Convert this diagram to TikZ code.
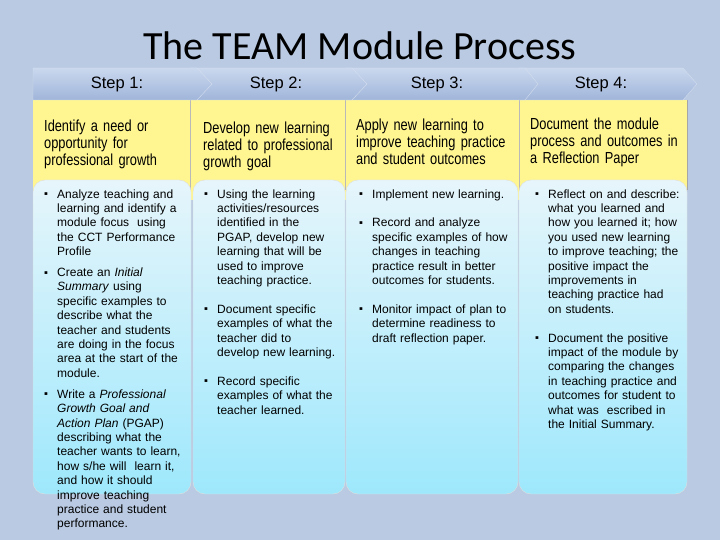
\documentclass[tikz,border=0pt]{standalone}
\usepackage{fontspec}
\setmainfont{Liberation Sans}
\newfontfamily\titlefont{Carlito}
\newfontfamily\goalfont[FakeStretch=0.8]{Liberation Sans}
\usepackage{tikz}
\usetikzlibrary{positioning}
\definecolor{slide}{RGB}{185,202,226}
\definecolor{headtop}{RGB}{202,216,238}
\definecolor{headbot}{RGB}{160,181,218}
\definecolor{goalyellow}{RGB}{255,246,145}
\definecolor{boxtop}{RGB}{230,245,251}
\definecolor{boxbot}{RGB}{158,232,252}
\newlength{\hangw}
\setlength{\hangw}{13pt}
\newcommand{\bitem}[1]{\par\noindent\hangindent=\hangw\hangafter=1%
  \makebox[\hangw][l]{\strut\raisebox{0.3pt}{\fontsize{11}{11}\selectfont ▪}}#1\par}

\begin{document}
\begin{tikzpicture}[
    x=1pt, y=-1pt,
    header/.style={top color=headtop, bottom color=headbot, draw=white!55!headbot},
    steplabel/.style={font=\fontsize{16.5}{18}\selectfont, inner sep=0pt},
    goal/.style={anchor=north west, inner sep=0pt, text width=150pt, align=left,
                 font=\goalfont\fontsize{16}{17}\selectfont},
    card/.style={draw=gray!25, rounded corners=12pt, top color=boxtop, bottom color=boxbot},
    bullets/.style={anchor=north west, inner sep=0pt, align=left,
                    font=\fontsize{12}{14.4}\selectfont}
  ]

  % slide background
  \fill[slide] (0,0) rectangle (720,540);
  \useasboundingbox (0,0) rectangle (720,540);

  % title
  \node[font=\titlefont\fontsize{40}{44}\selectfont, anchor=base, inner sep=0pt]
    (title) at (360,60) {The TEAM Module Process};

  % yellow goal strip with column rules
  \fill[goalyellow] (33,100) rectangle (687,200);
  \foreach \x in {190,345,519}
    \draw[gray!55] (\x,100) -- (\x,190);
  \draw[gray!70, line width=1.5pt] (687.5,100) -- (687.5,190);

  % step arrows, drawn right to left so each tip lies on the next one
  \foreach \l/\r/\t in {519/683/697, 345/525/538, 190/352/367, 33/197/212}
    \path[header] (\l,68) -- (\r,68) -- (\t,84) -- (\r,100) -- (\l,100) -- cycle;

  \node[steplabel] (step1) at (117,84) {Step 1:};
  \node[steplabel] (step2) at (276,84) {Step 2:};
  \node[steplabel] (step3) at (437,84) {Step 3:};
  \node[steplabel] (step4) at (601,84) {Step 4:};

  % goal texts
  \node[goal] (goal1) at (44,119)
    {\strut Identify a need or\\opportunity for\\professional growth};
  \node[goal] (goal2) at (203,121)
    {\strut Develop new learning\\related to professional\\growth goal};
  \node[goal] (goal3) at (356,118)
    {\strut Apply new learning to\\improve teaching practice\\and student outcomes};
  \node[goal] (goal4) at (530,117)
    {\strut Document the module\\process and outcomes in\\a Reflection Paper};

  % blue cards
  \foreach \l/\r in {33/191, 193/345, 346/518, 519/687}
    \path[card] (\l,180) rectangle (\r,494);

  % bullet lists
  \node[bullets, text width=140pt] (list1) at (44,183.5) {%
    \bitem{Analyze teaching and\newline learning and identify a\newline
      module focus~ using\newline the CCT Performance\newline Profile}
    \vspace{6.5pt}
    \bitem{Create an \textit{Initial}\newline \textit{Summary} using\newline
      specific examples to\newline describe what the\newline
      teacher and students\newline are doing in the focus\newline
      area at the start of the\newline module.}
    \vspace{6.5pt}
    \bitem{Write a \textit{Professional}\newline \textit{Growth Goal and}\newline
      \textit{Action Plan} (PGAP)\newline describing what the\newline
      teacher wants to learn,\newline how s/he will~ learn it,\newline
      and how it should\newline improve teaching\newline
      practice and student\newline performance.}};

  \node[bullets, text width=140pt] (list2) at (204,183.5) {%
    \bitem{Using the learning\newline activities/resources\newline
      identified in the\newline PGAP, develop new\newline
      learning that will be\newline used to improve\newline teaching practice.}
    \vspace{14.4pt}
    \bitem{Document specific\newline examples of what the\newline
      teacher did to\newline develop new learning.}
    \vspace{14.4pt}
    \bitem{Record specific\newline examples of what the\newline teacher learned.}};

  \node[bullets, text width=160pt] (list3) at (359,183.5) {%
    \bitem{Implement new learning.}
    \vspace{14.4pt}
    \bitem{Record and analyze\newline specific examples of how\newline
      changes in teaching\newline practice result in better\newline
      outcomes for students.}
    \vspace{14.4pt}
    \bitem{Monitor impact of plan to\newline determine readiness to\newline
      draft reflection paper.}};

  \node[bullets, text width=160pt] (list4) at (535,183.5) {%
    \bitem{Reflect on and describe:\newline what you learned and\newline
      how you learned it; how\newline you used new learning\newline
      to improve teaching; the\newline positive impact the\newline
      improvements in\newline teaching practice had\newline on students.}
    \vspace{14.4pt}
    \bitem{Document the positive\newline impact of the module by\newline
      comparing the changes\newline in teaching practice and\newline
      outcomes for student to\newline what was~ escribed in\newline
      the Initial Summary.}};

\end{tikzpicture}
\end{document}
